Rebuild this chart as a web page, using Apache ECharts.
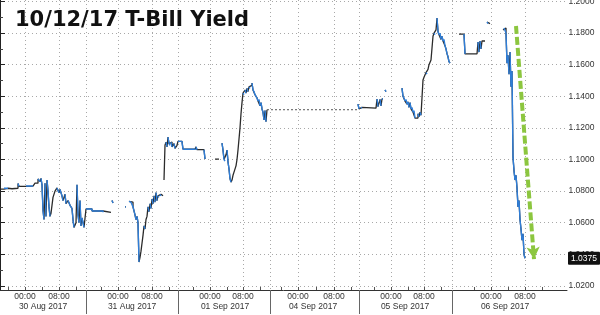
<!DOCTYPE html>
<html><head><meta charset="utf-8">
<script src="https://cdn.jsdelivr.net/npm/echarts@6/dist/echarts.min.js"></script>
<style>html,body{margin:0;padding:0;background:#fff}#c{width:600px;height:315px}</style>
</head><body><div id="c"></div>
<script>
// ---- text ----
const chartTitle = '10/12/17 T-Bill Yield';
// ---- x axis (compressed intraday bar index) ----
const timeTickPos  = [25, 59, 118, 152, 210, 243, 298, 334, 391, 424, 491, 525];
const timeTickText = ['00:00','08:00','00:00','08:00','00:00','08:00','00:00','08:00','00:00','08:00','00:00','08:00'];
const dateLabelPos  = [43, 132, 225, 313, 405, 505];
const dateLabelText = ['30 Aug 2017','31 Aug 2017','01 Sep 2017','04 Sep 2017','05 Sep 2017','06 Sep 2017'];
const daySepPos = [86, 178, 270, 359, 452];
const minorTickPos = [8, 42, 76, 101, 135, 169, 193, 227, 260, 281, 316, 351, 374, 408, 441, 474, 508, 542];
// ---- y axis ----
const yTickValues = [1.02, 1.04, 1.06, 1.08, 1.10, 1.12, 1.14, 1.16, 1.18, 1.20];
const yMinorTickValues = [1.03, 1.05, 1.07, 1.09, 1.11, 1.13, 1.15, 1.17, 1.19];
const lastValue = 1.0375;
// ---- data: [bar index, yield] per trading session piece ----
const aug30 = [[1,1.0812],[4,1.0818],[8,1.0815],[12,1.0818],[18,1.0848],[19,1.0830],[26,1.0832],[33,1.0830],[35,1.0850],[38,1.0877],[40,1.0860],[41,1.0880],[42,1.0840],[43,1.0680],[44,1.0620],[45,1.0850],[46,1.0640],[47,1.0870],[48,1.0800],[49,1.0700],[50,1.0640],[51,1.0660],[53,1.0760],[55,1.0800],[57,1.0820],[59,1.0790],[60,1.0810],[62,1.0770],[63,1.0740],[65,1.0780],[66,1.0720],[68,1.0740],[70,1.0710],[72,1.0690],[73,1.0620],[74,1.0570],[76,1.0600],[77,1.0840],[78,1.0650],[79,1.0600],[80,1.0740],[81,1.0580],[82,1.0630],[83,1.0600],[84,1.0570],[85,1.0580],[86,1.0687],[92,1.0674],[103,1.0666],[111,1.0666]];
const aug31TickA = [[112,1.0740],[113,1.0725]];
const aug31TickB = [[125,1.0700],[126,1.0697]];
const aug31a = [[129,1.0735],[131,1.0730],[133,1.0700],[135,1.0650],[136,1.0620],[137,1.0640],[138,1.0600],[139,1.0351],[140,1.0380],[141,1.0420],[142,1.0470],[143,1.0520],[144,1.0580],[145,1.0560],[146,1.0620],[147,1.0640],[148,1.0700],[149,1.0670],[150,1.0720],[151,1.0690],[152,1.0750],[153,1.0720],[154,1.0770],[155,1.0730],[156,1.0790],[157,1.0740],[158,1.0770],[159,1.0760],[160,1.0780],[161,1.0770],[163,1.0788]];
const aug31b = [[164,1.0870],[165,1.1090],[166,1.1110],[167,1.1080],[168,1.1142],[169,1.1100],[170,1.1090],[171,1.1110],[172,1.1080],[174,1.1100],[175,1.1070],[177,1.1090],[178,1.1115],[182,1.1110],[183,1.1065],[195,1.1060],[196,1.1080],[197,1.1062],[204,1.1062],[205,1.1003]];
const sep01Tick = [[215,1.1003],[219,1.1003]];
const sep01 = [[222,1.1104],[223,1.1060],[224,1.1000],[225,1.0990],[226,1.1030],[227,1.1060],[228,1.0985],[229,1.0940],[230,1.0880],[231,1.0857],[232,1.0870],[233,1.0900],[234,1.0920],[235,1.0930],[236,1.0960],[237,1.1000],[238,1.1060],[239,1.1130],[240,1.1200],[241,1.1290],[242,1.1360],[243,1.1420],[244,1.1410],[245,1.1440],[246,1.1420],[247,1.1450],[248,1.1430],[249,1.1460],[250,1.1450],[251,1.1470],[252,1.1484],[253,1.1440],[254,1.1430],[255,1.1410],[256,1.1400],[257,1.1390],[258,1.1370],[259,1.1380],[260,1.1340],[261,1.1360],[262,1.1320],[263,1.1300],[264,1.1250],[265,1.1310],[266,1.1240],[267,1.1315]];
const holidayGap = [[267,1.1315],[358,1.1315]];
const sep05a = [[358,1.1350],[359,1.1320],[361,1.1330],[362,1.1325],[376,1.1325],[377,1.1383],[378,1.1335],[380,1.1380],[381,1.1340],[382,1.1383],[383,1.1380]];
const sep05Tick = [[385,1.1440],[386,1.1430]];
const sep05b = [[402,1.1452],[403,1.1400],[404,1.1390],[405,1.1370],[406,1.1380],[407,1.1350],[408,1.1365],[409,1.1330],[410,1.1360],[411,1.1320],[412,1.1330],[413,1.1300],[414,1.1310],[415,1.1262],[417,1.1262],[418,1.1290],[419,1.1270],[420,1.1300],[421,1.1280],[422,1.1290],[423,1.1503],[424,1.1520],[425,1.1530],[426,1.1550],[427,1.1540],[428,1.1570],[429,1.1600],[430,1.1610],[431,1.1630],[432,1.1640],[433,1.1780],[434,1.1800],[435,1.1790],[436,1.1820],[437,1.1896],[438,1.1810],[439,1.1790],[440,1.1800],[441,1.1760],[442,1.1780],[443,1.1750],[444,1.1760],[445,1.1720],[446,1.1700],[447,1.1670],[448,1.1650],[449,1.1620],[450,1.1610]];
const sep06a = [[459,1.1794],[464,1.1794],[465,1.1668],[477,1.1668],[478,1.1744],[479,1.1680],[480,1.1750],[481,1.1700],[482,1.1750],[485,1.1750]];
const sep06Tick = [[487,1.1870],[488,1.1860],[490,1.1860]];
const sep06b = [[503,1.1820],[504,1.1832],[506,1.1800],[507,1.1610],[508,1.1660],[509,1.1540],[510,1.1680],[511,1.1460],[512,1.1560],[513,1.1015],[514,1.0930],[515,1.0870],[516,1.0900],[517,1.0820],[518,1.0700],[519,1.0740],[520,1.0620],[521,1.0560],[522,1.0490],[523,1.0530],[524,1.0400],[525,1.0375]];
const trendArrow = [[516,1.1845],[534,1.0370]];

const sessions = [aug30, aug31TickA, aug31TickB, aug31a, aug31b, sep01Tick, sep01, sep05a, sep05Tick, sep05b, sep06a, sep06Tick, sep06b];
const base = [];
sessions.forEach(s => { s.forEach(p => base.push(p)); base.push(null); });
const downs = [];
sessions.forEach(s => {
  for (let i = 1; i < s.length; i++) {
    if (s[i][1] < s[i-1][1]) { downs.push(s[i-1], s[i], null); }
  }
});

const FONT = 'Liberation Sans';
const xMin = 0, xMax = 567;
const yMin = 1.01741, yMax = 1.20095;
const gridDot = {color:'#a8a8a8', width:1, type:[1,3]};

const chart = echarts.init(document.getElementById('c'), null, {renderer:'canvas'});
chart.setOption({
  animation:false,
  backgroundColor:'#ffffff',
  title:{text:chartTitle, left:15, top:10, padding:0,
    textStyle:{fontFamily:'DejaVu Sans', fontSize:21, fontWeight:'bold', color:'#111'}},
  grid:{left:0, right:33, top:0, bottom:25, outerBoundsMode:'none', containLabel:false},
  xAxis:[
    {type:'value', min:xMin, max:xMax, position:'bottom',
      axisLine:{show:true, lineStyle:{color:'#333', width:1}},
      axisTick:{show:true, inside:true, length:3, customValues:minorTickPos.concat(timeTickPos), lineStyle:{color:'#555'}},
      axisLabel:{show:false}, splitLine:{show:false}},
    {type:'value', min:xMin, max:xMax, position:'bottom',
      axisLine:{show:false},
      axisTick:{show:false, customValues:timeTickPos},
      axisLabel:{show:true, customValues:timeTickPos, margin:2, fontFamily:FONT, fontSize:8.5, color:'#333',
        formatter:v => timeTickText[timeTickPos.indexOf(v)] || ''},
      splitLine:{show:true, lineStyle:gridDot}},
    {type:'value', min:xMin, max:xMax, position:'bottom',
      axisLine:{show:false},
      axisTick:{show:false, customValues:dateLabelPos},
      axisLabel:{show:true, customValues:dateLabelPos, margin:12, fontFamily:FONT, fontSize:8.5, color:'#333',
        formatter:v => dateLabelText[dateLabelPos.indexOf(v)] || ''},
      splitLine:{show:false}},
    {type:'value', min:xMin, max:xMax, position:'bottom',
      axisLine:{show:false},
      axisTick:{show:true, inside:false, length:24, customValues:daySepPos, lineStyle:{color:'#666', width:1}},
      axisLabel:{show:false},
      splitLine:{show:true, lineStyle:gridDot}}
  ],
  yAxis:[
    {type:'value', min:yMin, max:yMax, position:'right',
      axisLine:{show:true, lineStyle:{color:'#222', width:1}},
      axisTick:{show:true, inside:false, length:5, customValues:yTickValues, lineStyle:{color:'#222'}},
      axisLabel:{show:true, customValues:yTickValues, margin:1.5, fontFamily:FONT, fontSize:8.5, color:'#333',
        formatter:v => v.toFixed(4)},
      splitLine:{show:true, lineStyle:gridDot},
      axisPointer:{show:true, type:'line', value:lastValue, status:'show', snap:false, triggerTooltip:false,
        lineStyle:{opacity:0, width:0},
        handle:{show:false},
        label:{show:true, precision:4, backgroundColor:'#111', color:'#fff', fontFamily:FONT, fontSize:8.5,
          padding:[2,3,2,3], margin:2, borderRadius:1}}},
    {type:'value', min:yMin, max:yMax, position:'right',
      axisLine:{show:false},
      axisTick:{show:true, inside:false, length:3, customValues:yMinorTickValues, lineStyle:{color:'#444'}},
      axisLabel:{show:false}, splitLine:{show:false}}
  ],
  axisPointer:{triggerOn:'none'},
  series:[
    {type:'line', data:base, step:'end', symbol:'none', connectNulls:false, silent:true,
      lineStyle:{color:'#2b2b2b', width:1.3}},
    {type:'line', data:downs, step:'end', symbol:'none', connectNulls:false, silent:true,
      lineStyle:{color:'#2f7ed8', width:1.4}},
    {type:'line', data:holidayGap, symbol:'none', silent:true,
      lineStyle:{color:'#555', width:1, type:[2,2]},
      markLine:{silent:true, symbol:['none','arrow'], symbolSize:[10,12], animation:false,
        lineStyle:{color:'#8cc63f', width:4, type:[8,3]}, label:{show:false},
        data:[[{coord:trendArrow[0]},{coord:trendArrow[1]}]]}}
  ]
});
</script></body></html>
